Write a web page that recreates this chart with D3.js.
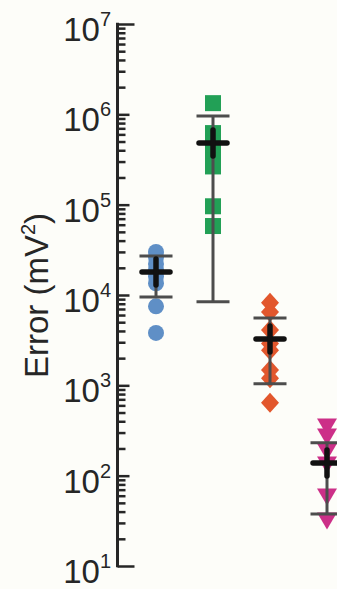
<!DOCTYPE html>
<html>
<head>
<meta charset="utf-8">
<script src="https://cdn.jsdelivr.net/npm/d3@7"></script>
<style>
  html, body { margin: 0; padding: 0; background: #fdfdf9; }
  svg { display: block; font-family: "Liberation Sans", Arial, sans-serif; }
</style>
</head>
<body>
<svg id="chart" width="337" height="589"></svg>
<script>
// groups, left to right
const groups = ["a", "b", "c", "d"];
const colors = { a: "#5f8fc6", b: "#22a056", c: "#e2572d", d: "#cc2f88" };
const shapes = { a: "circle", b: "square", c: "diamond", d: "triangle" };

// individual errors (mV^2)
const valuesA = [30000, 26000, 22000, 19000, 16000, 13500, 7500, 3800];
const valuesB = [1330000, 620000, 480000, 400000, 310000, 265000, 96000, 58000];
const valuesC = [8200, 6500, 4100, 2900, 2450, 1480, 1200, 640];
const valuesD = [346, 268, 183, 131, 58, 31.5];

// mean and spread shown by the bars
const means = [18000, 482000, 3260, 138];
const lows = [9500, 8400, 1040, 37.6];
const highs = [27000, 960000, 5560, 232];

const majorTicks = [10, 100, 1000, 10000, 100000, 1000000, 10000000];
const tickExponents = ["1", "2", "3", "4", "5", "6", "7"];

const svg = d3.select("#chart");
const ink = "#262626";

const y = d3.scaleLog().domain([10, 1e7]).range([566, 24]);
const x = d3.scalePoint().domain(groups).range([156, 327]);

const axisX = 117.5;

function minorTicks() {
  const out = [];
  for (let d = 10; d < 1e7; d *= 10) {
    for (let k = 2; k <= 9; k++) out.push(d * k);
  }
  return out;
}

function tickAxis(values, size) {
  const g = svg.append("g").attr("transform", `translate(${axisX},0)`);
  g.call(d3.axisRight(y).tickValues(values).tickSize(size).tickSizeOuter(0).tickFormat(""));
  g.select(".domain").remove();
  g.selectAll(".tick line").attr("stroke", ink).attr("stroke-width", 2.5);
  return g;
}

tickAxis(minorTicks(), 8);
tickAxis(majorTicks.slice(1, -1), 12);
tickAxis([10, 1e7], 17);

svg.append("line")
  .attr("x1", axisX).attr("x2", axisX)
  .attr("y1", y(1e7) - 1.25).attr("y2", y(10) + 1.25)
  .attr("stroke", ink).attr("stroke-width", 3);

// tick labels: 10 with superscript exponent
const labels = svg.append("g").attr("fill", ink);
majorTicks.forEach((v, i) => {
  const t = labels.append("text")
    .attr("x", 111)
    .attr("y", y(v) + 17)
    .attr("text-anchor", "end")
    .attr("font-size", 33);
  t.append("tspan").text("10");
  t.append("tspan").attr("font-size", 20).attr("dy", -15).text(tickExponents[i]);
});

const yLabel = svg.append("text")
  .attr("transform", "translate(48,295.5) rotate(-90)")
  .attr("text-anchor", "middle")
  .attr("font-size", 33)
  .attr("fill", ink);
yLabel.append("tspan").text("Error (mV");
yLabel.append("tspan").attr("font-size", 20).attr("dy", -13).text("2");
yLabel.append("tspan").attr("dy", 13).text(")");

// markers
const series = [valuesA, valuesB, valuesC, valuesD];

function markerPath(shape) {
  if (shape === "square") return "M-8,-8H8V8H-8Z";
  if (shape === "diamond") return "M0,-10L9,0L0,10L-9,0Z";
  if (shape === "triangle") return "M-10,-8.5H10L0,8.5Z";
  return d3.symbol(d3.symbolCircle, Math.PI * 8 * 8)();
}

groups.forEach((g, i) => {
  svg.append("g")
    .selectAll("path")
    .data(series[i])
    .join("path")
    .attr("d", markerPath(shapes[g]))
    .attr("transform", (v) => `translate(${x(g)},${y(v)})`)
    .attr("fill", colors[g]);
});

// spread bars (gray) with caps
const bars = svg.append("g").attr("stroke", "#4d4d4d").attr("stroke-width", 3);
groups.forEach((g, i) => {
  const cx = x(g);
  bars.append("line").attr("x1", cx).attr("x2", cx).attr("y1", y(highs[i])).attr("y2", y(lows[i]));
  [highs[i], lows[i]].forEach((v) => {
    bars.append("line").attr("x1", cx - 16.5).attr("x2", cx + 16.5).attr("y1", y(v)).attr("y2", y(v));
  });
});

// mean cross (black)
const cross = svg.append("g").attr("stroke", "#111").attr("stroke-width", 5.5).attr("stroke-linecap", "round");
groups.forEach((g, i) => {
  const cx = x(g);
  const cy = y(means[i]);
  cross.append("line").attr("x1", cx - 14).attr("x2", cx + 14).attr("y1", cy).attr("y2", cy);
  cross.append("line").attr("x1", cx).attr("x2", cx).attr("y1", cy - 13).attr("y2", cy + 13);
});
</script>
</body>
</html>
